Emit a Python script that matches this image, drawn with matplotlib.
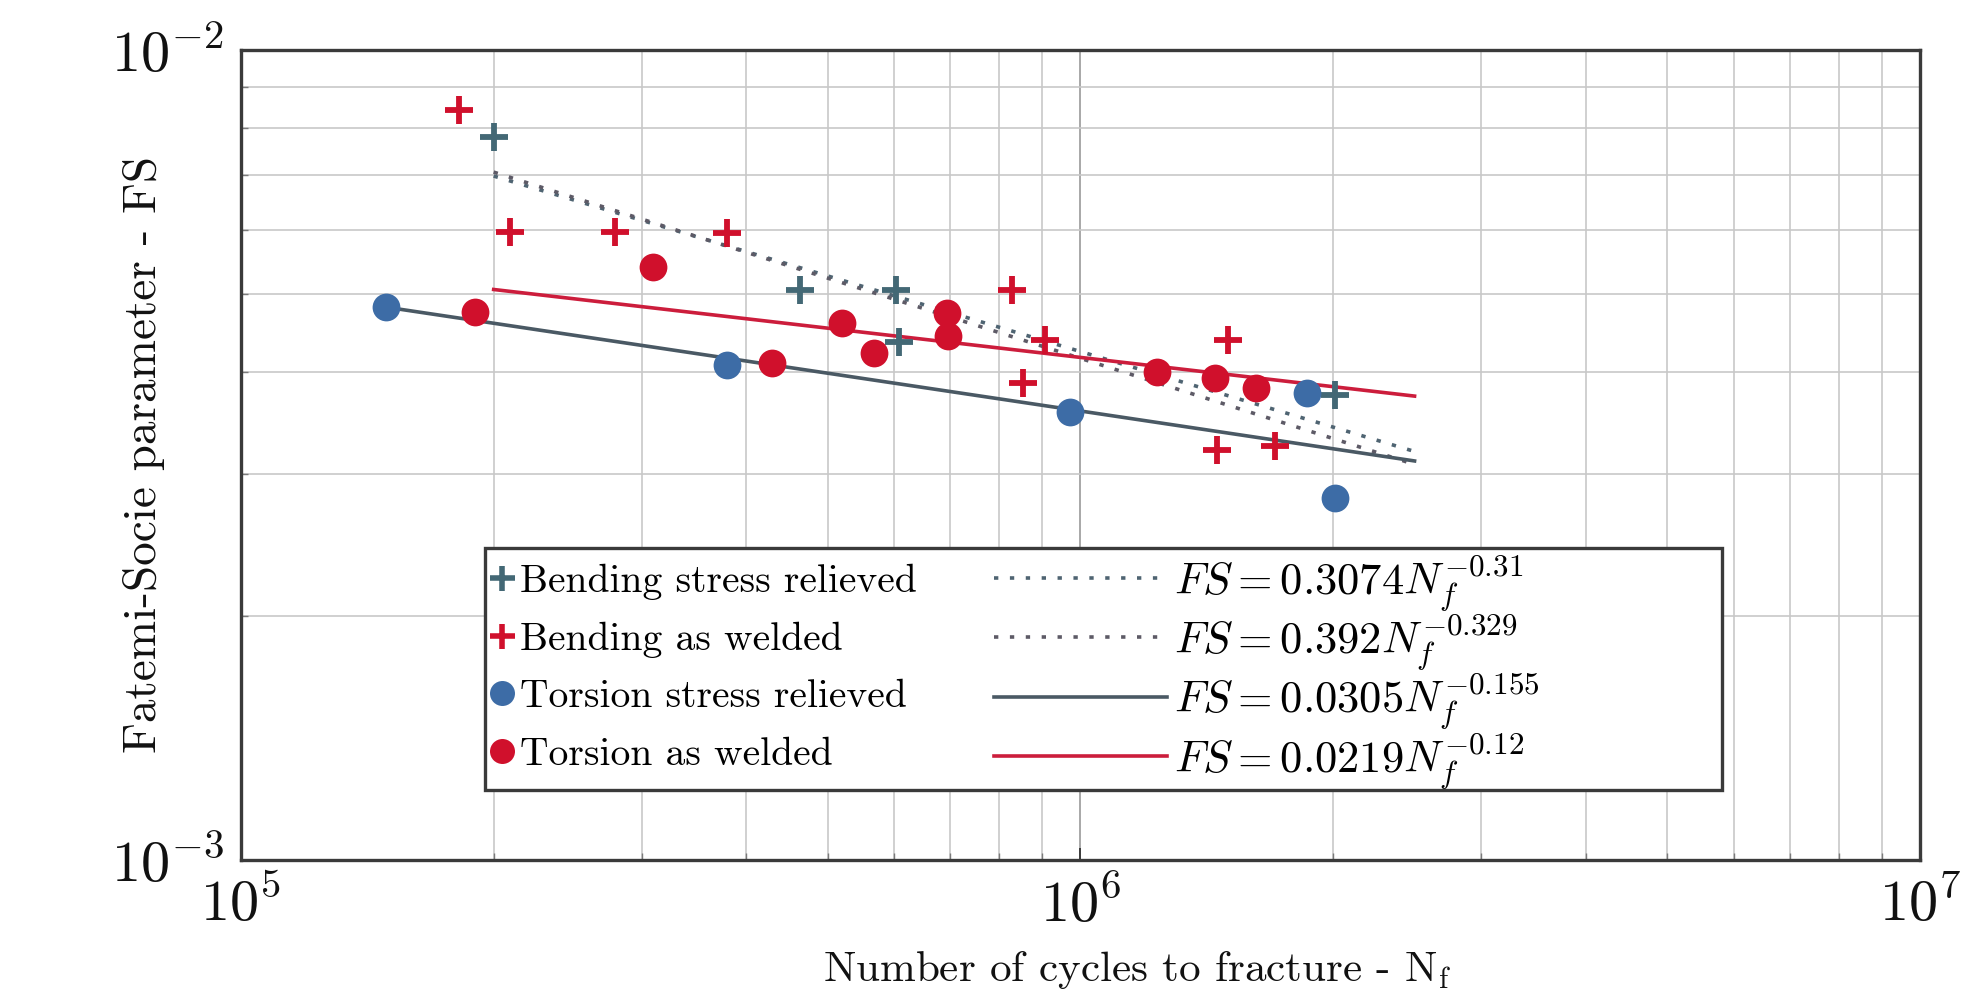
import matplotlib
matplotlib.use("Agg")
import matplotlib.pyplot as plt
import numpy as np
from matplotlib.lines import Line2D
from matplotlib.patches import Rectangle
from matplotlib.ticker import LogLocator, NullFormatter

plt.rcParams['font.family'] = 'serif'
plt.rcParams['font.serif'] = ['cmr10']
plt.rcParams['mathtext.fontset'] = 'cm'
plt.rcParams['axes.formatter.use_mathtext'] = True

# measured points (cycles, FS)
bend_sr_n = [2.0e5, 4.63e5, 6.03e5, 6.08e5, 2.01e6]
bend_sr_fs = [7.81e-3, 5.06e-3, 5.06e-3, 4.36e-3, 3.75e-3]

bend_aw_n = [1.82e5, 2.09e5, 2.79e5, 3.79e5, 8.28e5, 8.54e5, 9.07e5, 1.50e6, 1.454e6, 1.705e6]
bend_aw_fs = [8.43e-3, 5.96e-3, 5.96e-3, 5.95e-3, 5.06e-3, 3.88e-3, 4.38e-3, 4.38e-3, 3.21e-3, 3.24e-3]

tor_sr_n = [1.49e5, 3.79e5, 9.72e5, 1.86e6, 2.01e6]
tor_sr_fs = [4.82e-3, 4.08e-3, 3.57e-3, 3.77e-3, 2.80e-3]

tor_aw_n = [1.90e5, 3.10e5, 4.29e5, 5.20e5, 5.68e5, 6.93e5, 6.95e5, 1.233e6, 1.445e6, 1.62e6]
tor_aw_fs = [4.75e-3, 5.40e-3, 4.11e-3, 4.60e-3, 4.22e-3, 4.73e-3, 4.43e-3, 4.00e-3, 3.94e-3, 3.83e-3]

# power law fits FS = a * N^b
fit_a = [0.3074, 0.392, 0.0305, 0.0219]
fit_b = [-0.31, -0.329, -0.155, -0.12]
fit_a_txt = ['0.3074', '0.392', '0.0305', '0.0219']
fit_b_txt = ['-0.31', '-0.329', '-0.155', '-0.12']
fit_start = [2e5, 2e5, 1.5e5, 2e5]
fit_end = [2.5e6, 2.5e6, 2.5e6, 2.5e6]

series_labels = ['Bending stress relieved', 'Bending as welded',
                 'Torsion stress relieved', 'Torsion as welded']

c_teal = '#436875'
c_red = '#d0102c'
c_blue = '#3d6ca6'
fit_colors = ['#4f6472', '#5d5a66', '#4a5964', '#cc1d3c']
fit_styles = [(0, (1.2, 3.2)), (0, (1.2, 3.2)), '-', '-']

fig = plt.figure(figsize=(19.88, 9.92), dpi=100)
ax = fig.add_axes([0.1212, 0.1331, 0.8446, 0.8165])

ax.set_xscale('log')
ax.set_yscale('log')
ax.set_xlim(1e5, 1e7)
ax.set_ylim(1e-3, 1e-2)

ax.xaxis.set_minor_locator(LogLocator(base=10, subs=np.arange(2, 10)))
ax.yaxis.set_minor_locator(LogLocator(base=10, subs=np.arange(2, 10)))
ax.xaxis.set_minor_formatter(NullFormatter())
ax.yaxis.set_minor_formatter(NullFormatter())
ax.grid(True, which='major', color='#a8a8a8', lw=1.4, zorder=0)
ax.grid(True, which='minor', color='#c8c8c8', lw=1.2, zorder=0)
ax.set_axisbelow(True)

fit_handles = []
for i in range(4):
    xs = np.array([fit_start[i], fit_end[i]])
    ys = fit_a[i] * xs ** fit_b[i]
    h, = ax.plot(xs, ys, color=fit_colors[i], ls=fit_styles[i], lw=2.6, zorder=2)
    fit_handles.append(h)

h1, = ax.plot(bend_sr_n, bend_sr_fs, ls='none', marker='+', ms=20, mew=4.2, color=c_teal, zorder=3)
h2, = ax.plot(bend_aw_n, bend_aw_fs, ls='none', marker='+', ms=20, mew=4.2, color=c_red, zorder=3)
h3, = ax.plot(tor_sr_n, tor_sr_fs, ls='none', marker='o', ms=20, mec='none', color=c_blue, zorder=3)
h4, = ax.plot(tor_aw_n, tor_aw_fs, ls='none', marker='o', ms=20, mec='none', color=c_red, zorder=3)

for s in ax.spines.values():
    s.set_color('#3a3a3a')
    s.set_linewidth(2.4)
ax.tick_params(which='major', direction='in', length=9, width=1.4, colors='#3a3a3a',
               labelsize=42, labelcolor='#111111', pad=12)
ax.tick_params(which='minor', direction='in', length=5, width=1.0, colors='#7a7a7a')

ax.set_xlabel('Number of cycles to fracture - N$_{\\mathrm{f}}$', fontsize=31, color='#111111')
ax.set_ylabel('Fatemi-Socie parameter - FS', fontsize=34, color='#111111')
ax.xaxis.set_label_coords(0.534, -0.11)
ax.yaxis.set_label_coords(-0.045, 0.5)

# legend frame
frame = Rectangle((0.1453, 0.0864), 0.882 - 0.1453, 0.385 - 0.0864, transform=ax.transAxes,
                  facecolor='white', edgecolor='#3a3a3a', lw=2.4, zorder=4)
ax.add_patch(frame)

mk_handles = [Line2D([], [], ls='none', marker='+', ms=18, mew=4, color=c_teal),
              Line2D([], [], ls='none', marker='+', ms=18, mew=4, color=c_red),
              Line2D([], [], ls='none', marker='o', ms=18, mec='none', color=c_blue),
              Line2D([], [], ls='none', marker='o', ms=18, mec='none', color=c_red)]
leg1 = ax.legend(mk_handles, series_labels, loc='center left', bbox_to_anchor=(0.148, 0.237),
                 frameon=False, fontsize=28.5, handlelength=0.65, handletextpad=0.12,
                 labelspacing=0.55, borderpad=0, borderaxespad=0)
leg1.set_zorder(5)
ax.add_artist(leg1)

eq_labels = ['$FS = %sN_f^{%s}$' % (fit_a_txt[i], fit_b_txt[i]) for i in range(4)]
leg2 = ax.legend(fit_handles, eq_labels, loc='center left', bbox_to_anchor=(0.4485, 0.232),
                 frameon=False, fontsize=32, handlelength=3.9, handletextpad=0.15,
                 labelspacing=0.0, borderpad=0, borderaxespad=0)
leg2.set_zorder(5)

fig.savefig('out.png', dpi=100)
